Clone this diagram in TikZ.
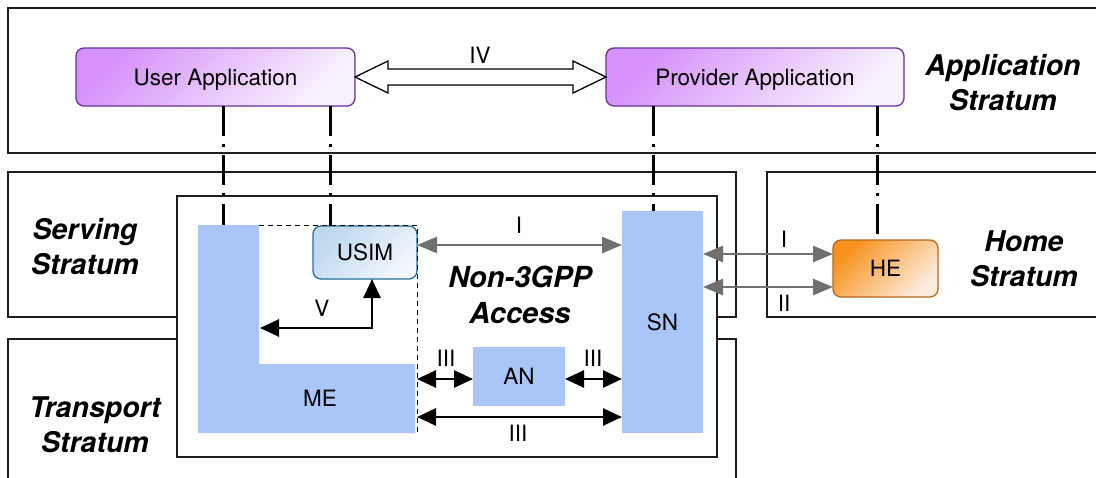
\documentclass[tikz,border=0pt]{standalone}
\usepackage{fontspec}
\setmainfont{TeX Gyre Heros}
\usetikzlibrary{arrows.meta,calc}

\definecolor{appdark}{RGB}{214,146,250}
\definecolor{applight}{RGB}{248,242,253}
\definecolor{appborder}{RGB}{104,48,158}
\definecolor{simdark}{RGB}{190,216,238}
\definecolor{simlight}{RGB}{242,247,253}
\definecolor{simborder}{RGB}{36,112,156}
\definecolor{hedark}{RGB}{247,146,28}
\definecolor{helight}{RGB}{252,236,222}
\definecolor{heborder}{RGB}{178,104,30}
\definecolor{entblue}{RGB}{170,197,248}
\definecolor{linkgray}{RGB}{112,112,112}
\definecolor{framecol}{RGB}{30,30,30}

\tikzset{
  stratumframe/.style={draw=framecol, line width=1.3pt},
  lbl/.style={font=\fontsize{22.5}{27}\selectfont, inner sep=0pt, text height=16.2pt, text depth=0pt},
  stratumlbl/.style={font=\fontsize{28.5}{35}\selectfont\bfseries\itshape, align=center, inner sep=0pt},
  appbox/.style={draw=appborder, line width=1.3pt, rounded corners=8pt,
    top color=appdark, bottom color=applight, shading angle=45,
    minimum height=58pt, inner sep=0pt, outer sep=0pt,
    font=\fontsize{22.5}{27}\selectfont, text height=16.2pt, text depth=0pt},
  simbox/.style={draw=simborder, line width=1.3pt, rounded corners=8pt,
    top color=simdark, bottom color=simlight, shading angle=45,
    minimum width=104pt, minimum height=53pt, inner sep=0pt, outer sep=0pt,
    font=\fontsize{22.5}{27}\selectfont, text height=16.2pt, text depth=0pt},
  hebox/.style={draw=heborder, line width=1.3pt, rounded corners=8pt,
    top color=hedark, bottom color=helight, shading angle=45,
    minimum width=105pt, minimum height=57pt, inner sep=0pt, outer sep=0pt,
    font=\fontsize{22.5}{27}\selectfont, text height=16.2pt, text depth=0pt},
  entity/.style={fill=entblue, draw=none, inner sep=0pt, outer sep=0pt,
    font=\fontsize{22.5}{27}\selectfont, text height=16.2pt, text depth=0pt},
  graylink/.style={draw=linkgray, line width=2.6pt,
    {Triangle[length=20pt,width=16pt]}-{Triangle[length=20pt,width=16pt]}},
  blacklink/.style={draw=black, line width=2.7pt,
    {Triangle[length=19pt,width=17pt]}-{Triangle[length=19pt,width=17pt]}},
  dashdotlink/.style={draw=black, line width=3pt, dash pattern=on 30pt off 8pt on 3pt off 8pt},
  thindash/.style={draw=black, line width=1pt, dash pattern=on 5pt off 4pt}
}

\begin{document}
\begin{tikzpicture}[x=1pt,y=-1pt]
\useasboundingbox (0,0) rectangle (1096,477);

% strata frames
\draw[stratumframe] (1100,8) -- (8,8) -- (8,153) -- (1100,153);
\draw[stratumframe] (8,172) rectangle (736,317);
\draw[stratumframe] (1100,172) -- (767,172) -- (767,317) -- (1100,317);
\draw[stratumframe] (8,490) -- (8,339) -- (736,339) -- (736,490);

% non-3GPP access domain
\draw[stratumframe, fill=white] (177,196) rectangle (717,457);

% mobile equipment (L shape)
\fill[entblue] (198,225) -- (259,225) -- (259,364) -- (415,364) -- (415,433) -- (198,433) -- cycle;
\node[lbl] (me) at (320,398) {ME};
\coordinate (meTop) at (223,225);
\coordinate (meInner) at (260,328);
\coordinate (meEdgeA) at (417,379);
\coordinate (meEdgeB) at (417,417);

% entities
\node[appbox, minimum width=279pt] (ua) at (215.5,77) {User Application};
\node[appbox, minimum width=298pt] (pa) at (755,77) {Provider Application};
\node[simbox] (usim) at (365,252.5) {USIM};
\node[hebox] (he) at (885.5,268.5) {HE};
\node[entity, minimum width=81pt, minimum height=222pt] (sn) at (662.5,322) {SN};
\node[entity, minimum width=92pt, minimum height=59pt] (an) at (519,376.5) {AN};

% dashed outline of the ME/USIM boundary
\draw[thindash] (259,225) -- (417,225) -- (417,433);

% IV: hollow double arrow between the applications
\draw[line width=1.3pt, fill=white, line join=miter]
  (ua.east) -- ++(33,-16) -- ++(0,8) -- ($(pa.west)+(-33,-8)$) -- ++(0,-8)
  -- (pa.west) -- ++(-33,16) -- ++(0,-8) -- ($(ua.east)+(33,8)$) -- ++(0,8) -- cycle;
\node[lbl] (lIV) at (480,55) {IV};

% dash-dot links between the strata
\draw[dashdotlink] ([xshift=7.5pt]ua.south) -- (meTop);
\draw[dashdotlink] ([xshift=114.5pt]ua.south) -- ([xshift=114.5pt]ua.south |- usim.north);
\draw[dashdotlink] ([xshift=-102pt]pa.south) -- ([xshift=-102pt]pa.south |- sn.north);
\draw[dashdotlink] ([xshift=122pt]pa.south) -- ([xshift=122pt]pa.south |- he.north);

% I: USIM <-> SN
\draw[graylink] ([yshift=7.5pt]usim.east) coordinate (i1) -- (i1 -| sn.west);
\node[lbl] (lI1) at (519,225) {I};

% I and II: SN <-> HE
\draw[graylink] ([yshift=14.5pt]he.west) coordinate (i2) -- (i2 -| sn.east);
\node[lbl] (lI2) at (784,239) {I};
\draw[graylink] ([yshift=-18.5pt]he.west) coordinate (i3) -- (i3 -| sn.east);
\node[lbl] (lII) at (784,303) {II};

% III links
\draw[blacklink] (meEdgeA) -- (meEdgeA -| an.west);
\node[lbl] (lIIIa) at (446,358) {III};
\draw[blacklink] (meEdgeA -| an.east) -- (meEdgeA -| sn.west);
\node[lbl] (lIIIb) at (593,358) {III};
\draw[blacklink] (meEdgeB) -- (meEdgeB -| sn.west);
\node[lbl] (lIIIc) at (518,433) {III};

% V: ME <-> USIM
\draw[blacklink] (meInner) -- ([xshift=7pt]usim.south |- meInner) -- ([xshift=7pt]usim.south);
\node[lbl] (lV) at (322,308) {V};

% stratum labels
\node[stratumlbl] (appS) at (1003,83) {Application\\Stratum};
\node[stratumlbl] (servS) at (85,247) {Serving\\Stratum};
\node[stratumlbl] (homeS) at (1024,259) {Home\\Stratum};
\node[stratumlbl] (transS) at (95,425) {Transport\\Stratum};
\node[stratumlbl, font=\fontsize{29}{36}\selectfont\bfseries\itshape] (acc) at (520,295) {Non-3GPP\\Access};
\end{tikzpicture}
\end{document}
